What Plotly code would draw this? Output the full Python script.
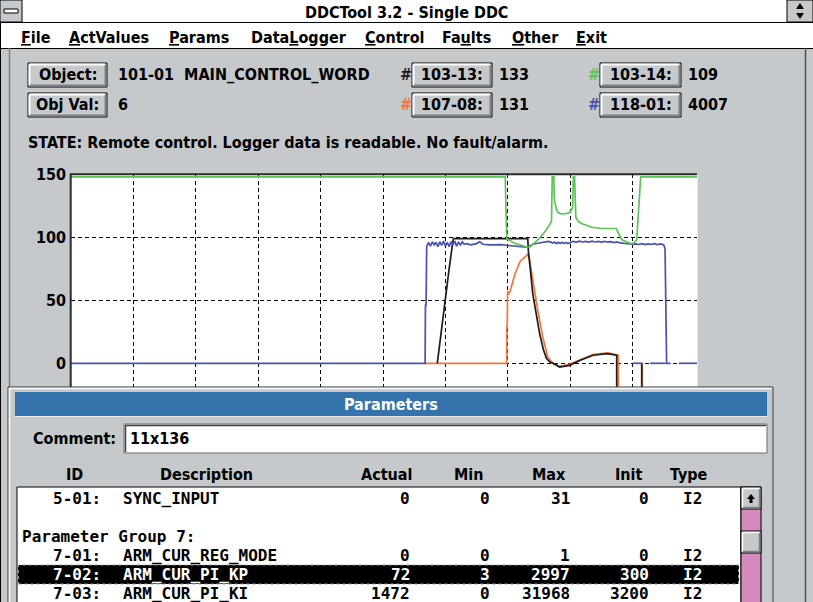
import plotly.graph_objects as go

W, H = 813, 602

# ---------------- logger data (x: grid divisions, y: percent) ----------------
green_x = [0, 6.96, 6.97, 6.985, 7.10, 7.30, 7.36, 7.41, 7.52, 7.62, 7.70, 7.712, 7.738, 7.745,
           7.78, 7.81, 7.87, 7.95, 8.00, 8.03, 8.04, 8.05, 8.07, 8.09, 8.13, 8.20, 8.35, 8.50,
           8.74, 8.77, 8.83, 8.95, 9.00, 9.066, 9.107, 9.13, 10.05]
green_y = [148, 148, 122, 99, 95.5, 92.3, 92.5, 95, 100, 106, 112.5, 148, 148, 130,
           122, 119.5, 118.5, 119, 120, 123, 124, 148, 148, 116, 112.5, 110.5, 108, 107,
           107, 103.5, 98, 95.5, 94.8, 98, 135, 148, 148]

blue_x = [0, 5.675, 5.68, 5.69, 5.70, 5.73, 5.76, 5.79, 5.82, 5.85, 5.88, 5.91, 5.94, 5.97,
          6.00, 6.03, 6.06, 6.09, 6.12, 6.15, 6.18, 6.21, 6.24, 6.27, 6.30, 6.35, 6.40, 6.45,
          6.50, 6.55, 6.60, 6.70, 6.80, 6.90, 7.00, 7.10, 7.20, 7.30, 7.35, 7.40, 7.50, 7.60,
          7.65, 7.70, 7.72, 7.75, 7.78, 7.81, 7.84, 7.87, 7.90, 7.93, 7.96, 7.99, 8.02, 8.05,
          8.10, 8.15, 8.20, 8.25, 8.30, 8.35, 8.40, 8.45, 8.50, 8.55, 8.60, 8.65, 8.70, 8.75,
          8.80, 8.90, 9.00, 9.05, 9.10, 9.15, 9.20, 9.25, 9.30, 9.35, 9.40, 9.45, 9.50, 9.52,
          9.53, 9.535, 9.545, 9.61, None, 9.74, 10.05, None, 9.00, 9.16, None, 9.28, 9.53]
blue_y = [0, 0, 46, 46, 92.5, 96, 93, 96.5, 94, 96, 92.5, 96.5, 93.5, 97,
          93, 96, 92.5, 96.5, 94, 97, 93, 96, 94, 96.5, 94.5, 95, 94, 94.5,
          95, 96.5, 94.5, 94, 94, 94.2, 93.5, 93, 92.5, 92.2, 93, 94.5, 95.5, 96.5,
          96.8, 96, 95.5, 96.2, 95, 96.1, 95.1, 96, 95, 95.9, 95.1, 95.6, 96.5, 96.8,
          96.2, 96.9, 96.3, 96.8, 96.2, 96.9, 96.3, 96.8, 96.2, 96.7, 96.1, 96.5, 95.8, 96.3,
          95.5, 94.8, 94.5, 94.8, 94.3, 94.9, 94.2, 94.8, 94.3, 94.9, 94.2, 94.7, 94.0, 91,
          46, 46, 0, 0, None, 0, 0, None, 0, 0, None, 0, 0]

black_x = [5.87, 5.93, 5.99, 6.06, 6.12, 6.13, 7.32, 7.33, 7.36, 7.40, 7.46, 7.51, 7.57, 7.62,
           7.68, 7.73, 7.83, 7.99, 8.16, 8.37, 8.59, 8.745, 8.745, 9.146, 9.146]
black_y = [0, 24, 50, 75, 97, 99, 99, 89, 75, 55, 38, 23.6, 11, 3.7,
           0.8, 0, -3, -1.6, 2.4, 6.4, 7.7, 6.4, -40, -40, 0]

orange_x = [5.66, 6.983, 6.983, 6.99, 6.997, 7.0, 7.012, 7.035, 7.07, 7.115, 7.196, 7.276, 7.32,
            7.35, 7.40, 7.48, 7.56, 7.64, 7.73, 7.83, 7.99, 8.16, 8.37, 8.61, 8.75, 8.77, 8.77,
            9.155, 9.155]
orange_y = [0, 0, 29, 29, 56.8, 57, 55, 57, 63, 71, 80.7, 85, 86.5,
            82, 66, 42, 21, 5, -0.6, -2.5, -0.8, 3, 7.2, 8.2, 7, 6.5, -40,
            -40, 0]

y_ticks = [0, 50, 100, 150]
x_grid = [1, 2, 3, 4, 5, 6, 7, 8, 9]

# ---------------- header / table content ----------------
menu_items = ["<u>F</u>ile", "<u>A</u>ctValues", "<u>P</u>arams", "Data<u>L</u>ogger",
              "<u>C</u>ontrol", "Fa<u>u</u>lts", "<u>O</u>ther", "<u>E</u>xit"]
menu_left = [19, 67, 167, 249, 363, 440, 510, 574]

col_heads = ["ID", "Description", "Actual", "Min", "Max", "Init", "Type"]
col_head_cx = [74, 206, 386, 469, 549, 629, 689]

row_id = ["5-01:", "", "", "7-01:", "7-02:", "7-03:"]
row_desc = ["SYNC_INPUT", "", "", "ARM_CUR_REG_MODE", "ARM_CUR_PI_KP", "ARM_CUR_PI_KI"]
row_actual = ["0", "", "", "0", "72", "1472"]
row_min = ["0", "", "", "0", "3", "0"]
row_max = ["31", "", "", "1", "2997", "31968"]
row_init = ["0", "", "", "0", "300", "3200"]
row_type = ["I2", "", "", "I2", "I2", "I2"]
group_label = "Parameter Group 7:"
selected_row = 4

GREEN = "#5cc454"
BLUE = "#4a52ae"
ORANGE = "#f4763a"
BLACK = "#1c1c1c"
GREY = "#c5c9cc"
DARK = "#7d8084"
UI = "DejaVu Sans Condensed, Liberation Sans Narrow, Arial Narrow, sans-serif"
MONO = "DejaVu Sans Mono, Liberation Mono, monospace"

fig = go.Figure()
for xs, ys, col, nm in [(orange_x, orange_y, ORANGE, "107-08"), (black_x, black_y, BLACK, "103-13"),
                        (blue_x, blue_y, BLUE, "118-01"), (green_x, green_y, GREEN, "103-14")]:
    fig.add_trace(go.Scatter(x=xs, y=ys, mode="lines", name=nm, line=dict(color=col, width=1.7),
                             hoverinfo="skip"))

shapes = []
ann = []


def X(px):
    return px / W


def Y(py):
    return 1 - py / H


def rect(x0, y0, x1, y1, fill, line=None, lw=1, dash=None):
    shapes.append(dict(type="rect", xref="paper", yref="paper", x0=X(x0), x1=X(x1), y0=Y(y1), y1=Y(y0),
                       fillcolor=fill, layer="above",
                       line=dict(color=line if line else fill, width=lw if line else 0, dash=dash)))


def line(x0, y0, x1, y1, color, lw=1, dash=None):
    shapes.append(dict(type="line", xref="paper", yref="paper", x0=X(x0), x1=X(x1), y0=Y(y0), y1=Y(y1),
                       layer="above", line=dict(color=color, width=lw, dash=dash)))


def path(pts, fill):
    d = "M " + " L ".join(f"{X(a):.5f},{Y(b):.5f}" for a, b in pts) + " Z"
    shapes.append(dict(type="path", xref="paper", yref="paper", path=d, fillcolor=fill, layer="above",
                       line=dict(width=0)))


def txt(x, y, s, size=16, color="black", anchor="left", family=UI, bold=True):
    ann.append(dict(x=X(x), y=Y(y), xref="paper", yref="paper", text=("<b>" + s + "</b>") if bold else s,
                    showarrow=False, xanchor=anchor, yanchor="middle",
                    font=dict(family=family, size=size, color=color)))


def button(x0, y0, x1, y1, label):
    rect(x0, y0, x1, y1, GREY, "black", 1)
    line(x0 + 1.5, y0 + 1.5, x1 - 2, y0 + 1.5, "white", 2)
    line(x0 + 1.5, y0 + 1.5, x0 + 1.5, y1 - 2, "white", 2)
    line(x0 + 2, y1 - 1.5, x1 - 1, y1 - 1.5, DARK, 2)
    line(x1 - 1.5, y0 + 2, x1 - 1.5, y1 - 1, DARK, 2)
    txt((x0 + x1) / 2, (y0 + y1) / 2, label, 16, "black", "center")


# ---------------- window chrome ----------------
rect(0, 0, W, 48, "white")
line(0, 22.5, W, 22.5, "black", 1)
line(0, 48.5, W, 48.5, "black", 1)
line(0.5, 0, 0.5, H, "black", 1)
# system menu box
rect(0, 0, 22, 22, GREY, "black", 1)
rect(4, 9, 18, 13, "white", "black", 1)
# right arrows box
rect(787, 0, W, 22, GREY, "black", 1)
path([(796, 9), (804, 9), (800, 3)], "black")
path([(796, 13), (804, 13), (800, 19)], "black")
txt(W / 2, 12, "DDCTool 3.2 - Single DDC", 16, "black", "center")
for lab, xl in zip(menu_items, menu_left):
    txt(xl, 37, lab, 16, "black", "left")

line(9.5, 48, 9.5, 390, DARK, 1.5)
line(805.5, 48, 805.5, H, "#505050", 1.5)

# ---------------- top info area ----------------
button(28, 63, 107, 87, "Object:")
button(28, 93, 107, 117, "Obj Val:")
button(412, 63, 492, 87, "103-13:")
button(412, 93, 492, 117, "107-08:")
button(600, 63, 681, 87, "103-14:")
button(600, 93, 681, 117, "118-01:")
txt(116, 75, "101-01  MAIN_CONTROL_WORD")
txt(116, 105, "6")
txt(398, 75, "#", 16, BLACK)
txt(398, 105, "#", 16, ORANGE)
txt(586, 75, "#", 16, GREEN)
txt(586, 105, "#", 16, BLUE)
txt(497, 75, "133")
txt(497, 105, "131")
txt(686, 75, "109")
txt(686, 105, "4007")
txt(26, 142, "STATE: Remote control. Logger data is readable. No fault/alarm.")

# chart frame lines
line(70, 174.3, 697, 174.3, "#2a2a2a", 2)
line(70.7, 173.5, 70.7, 390, "#2a2a2a", 2)
line(697.5, 174, 697.5, 390, "#e4e6e8", 1)

# ---------------- Parameters dialog ----------------
rect(8, 387, 773, H + 2, GREY, "#3a3a3a", 1)
line(9, 388.5, 772, 388.5, "white", 1.5)
line(9.5, 388, 9.5, H, "white", 1.5)
rect(15, 392, 767, 416, "#3573ad")
line(15, 416.5, 767, 416.5, "#e8e8e8", 1)
txt(391, 404, "Parameters", 16, "white", "center")

txt(118, 439, "Comment:", 16, "black", "right")
rect(124, 424, 767, 453, "white", "#6a6a6a", 1)
line(125, 425.5, 766, 425.5, "#404040", 1.5)
line(125.5, 425, 125.5, 452, "#404040", 1.5)
txt(128, 439, "11x136")

for h, cx in zip(col_heads, col_head_cx):
    txt(cx, 474, h, 16, "black", "center")

# list box
rect(17, 487, 741, H + 2, "white", "black", 1)
row_y = [498, 517, 536, 555, 574, 593]
rect(18, 565, 739, 584, "black")
rect(18.5, 565, 738.5, 584, "rgba(0,0,0,0)", "#9a9a9a", 1, "dot")
txt(20, row_y[2], group_label, 16, "black", "left", MONO)
for i, yy in enumerate(row_y):
    if not row_id[i]:
        continue
    c = "white" if i == selected_row else "black"
    txt(51, yy, row_id[i], 16, c, "left", MONO)
    txt(121, yy, row_desc[i], 16, c, "left", MONO)
    txt(412, yy, row_actual[i], 16, c, "right", MONO)
    txt(492, yy, row_min[i], 16, c, "right", MONO)
    txt(572, yy, row_max[i], 16, c, "right", MONO)
    txt(651, yy, row_init[i], 16, c, "right", MONO)
    txt(681, yy, row_type[i], 16, c, "left", MONO)

# scrollbar
rect(741, 487, 761, H + 2, "#d68abd", "black", 1)
rect(741, 487, 761, 509, GREY, "black", 1)
line(742.5, 488.5, 759.5, 488.5, "white", 1.5)
line(742.5, 488.5, 742.5, 507.5, "white", 1.5)
line(743, 507.5, 760, 507.5, DARK, 1.5)
line(759.5, 489, 759.5, 508, DARK, 1.5)
path([(747, 499), (755, 499), (751, 494)], "black")
rect(749.5, 499, 752.5, 503, "black")
rect(741, 531, 761, 553, GREY, "black", 1)
line(742.5, 532.5, 759.5, 532.5, "white", 1.5)
line(742.5, 532.5, 742.5, 551.5, "white", 1.5)
line(743, 551.5, 760, 551.5, DARK, 1.5)
line(759.5, 533, 759.5, 552, DARK, 1.5)

fig.update_layout(
    width=W, height=H, autosize=False,
    margin=dict(l=0, r=0, t=0, b=0, pad=0, autoexpand=False),
    paper_bgcolor=GREY, plot_bgcolor="white", showlegend=False,
    shapes=shapes, annotations=ann,
    xaxis=dict(domain=[71 / W, 697 / W], range=[0, (697 - 71) / 62.4], tickvals=x_grid,
               showticklabels=False, ticks="", showgrid=True, gridcolor="black", gridwidth=1.3,
               griddash="4px,3px", zeroline=False, showline=False, fixedrange=True, automargin=False),
    yaxis=dict(domain=[1 - 400 / H, 1 - 174.3 / H], range=[(363.3 - 400) / 1.26, (363.3 - 174.3) / 1.26],
               tickvals=y_ticks, ticktext=["<b>%d</b>" % v for v in y_ticks], ticks="", ticklabelstandoff=4,
               tickfont=dict(family=UI, size=16, color="black"), showgrid=True, gridcolor="black",
               gridwidth=1.3, griddash="4px,3px", zeroline=False, showline=False, fixedrange=True,
               automargin=False),
)

fig.write_html("out.html", config={"displayModeBar": False},
               post_script="document.body.style.margin='0';document.body.style.overflow='hidden';")
